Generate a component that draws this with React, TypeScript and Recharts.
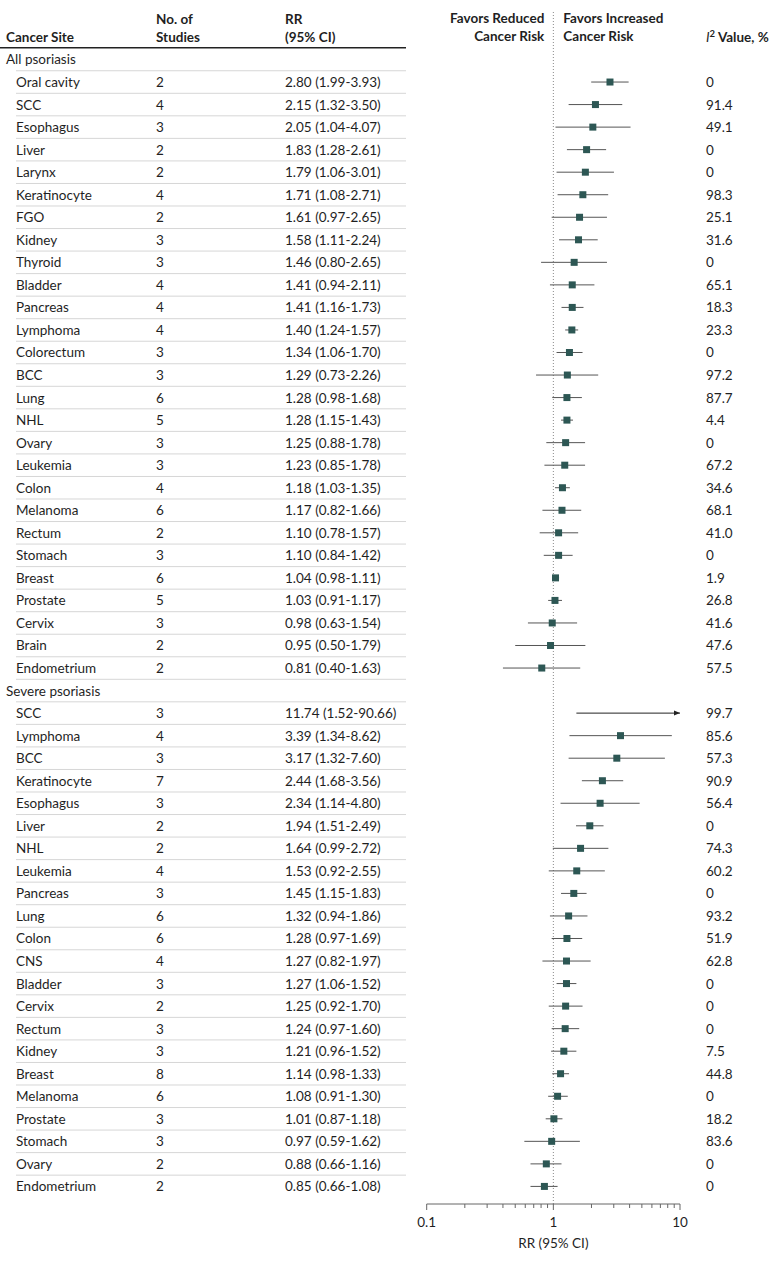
import React from 'react';
import { ScatterChart, Scatter, XAxis, YAxis, ErrorBar, ReferenceLine } from 'recharts';

const groupLabels = ['All psoriasis', 'Severe psoriasis'];

const allSites = ['Oral cavity', 'SCC', 'Esophagus', 'Liver', 'Larynx', 'Keratinocyte', 'FGO', 'Kidney', 'Thyroid', 'Bladder', 'Pancreas', 'Lymphoma', 'Colorectum', 'BCC', 'Lung', 'NHL', 'Ovary', 'Leukemia', 'Colon', 'Melanoma', 'Rectum', 'Stomach', 'Breast', 'Prostate', 'Cervix', 'Brain', 'Endometrium'];
const allStudies = [2, 4, 3, 2, 2, 4, 2, 3, 3, 4, 4, 4, 3, 3, 6, 5, 3, 3, 4, 6, 2, 3, 6, 5, 3, 2, 2];
const allRR = [2.80, 2.15, 2.05, 1.83, 1.79, 1.71, 1.61, 1.58, 1.46, 1.41, 1.41, 1.40, 1.34, 1.29, 1.28, 1.28, 1.25, 1.23, 1.18, 1.17, 1.10, 1.10, 1.04, 1.03, 0.98, 0.95, 0.81];
const allLow = [1.99, 1.32, 1.04, 1.28, 1.06, 1.08, 0.97, 1.11, 0.80, 0.94, 1.16, 1.24, 1.06, 0.73, 0.98, 1.15, 0.88, 0.85, 1.03, 0.82, 0.78, 0.84, 0.98, 0.91, 0.63, 0.50, 0.40];
const allHigh = [3.93, 3.50, 4.07, 2.61, 3.01, 2.71, 2.65, 2.24, 2.65, 2.11, 1.73, 1.57, 1.70, 2.26, 1.68, 1.43, 1.78, 1.78, 1.35, 1.66, 1.57, 1.42, 1.11, 1.17, 1.54, 1.79, 1.63];
const allI2 = ['0', '91.4', '49.1', '0', '0', '98.3', '25.1', '31.6', '0', '65.1', '18.3', '23.3', '0', '97.2', '87.7', '4.4', '0', '67.2', '34.6', '68.1', '41.0', '0', '1.9', '26.8', '41.6', '47.6', '57.5'];

const severeSites = ['SCC', 'Lymphoma', 'BCC', 'Keratinocyte', 'Esophagus', 'Liver', 'NHL', 'Leukemia', 'Pancreas', 'Lung', 'Colon', 'CNS', 'Bladder', 'Cervix', 'Rectum', 'Kidney', 'Breast', 'Melanoma', 'Prostate', 'Stomach', 'Ovary', 'Endometrium'];
const severeStudies = [3, 4, 3, 7, 3, 2, 2, 4, 3, 6, 6, 4, 3, 2, 3, 3, 8, 6, 3, 3, 2, 2];
const severeRR = [11.74, 3.39, 3.17, 2.44, 2.34, 1.94, 1.64, 1.53, 1.45, 1.32, 1.28, 1.27, 1.27, 1.25, 1.24, 1.21, 1.14, 1.08, 1.01, 0.97, 0.88, 0.85];
const severeLow = [1.52, 1.34, 1.32, 1.68, 1.14, 1.51, 0.99, 0.92, 1.15, 0.94, 0.97, 0.82, 1.06, 0.92, 0.97, 0.96, 0.98, 0.91, 0.87, 0.59, 0.66, 0.66];
const severeHigh = [90.66, 8.62, 7.60, 3.56, 4.80, 2.49, 2.72, 2.55, 1.83, 1.86, 1.69, 1.97, 1.52, 1.70, 1.60, 1.52, 1.33, 1.30, 1.18, 1.62, 1.16, 1.08];
const severeI2 = ['99.7', '85.6', '57.3', '90.9', '56.4', '0', '74.3', '60.2', '0', '93.2', '51.9', '62.8', '0', '0', '0', '7.5', '44.8', '0', '18.2', '83.6', '0', '0'];

const xTicks = [0.1, 0.2, 0.3, 0.4, 0.5, 0.6, 0.7, 0.8, 0.9, 1, 2, 3, 4, 5, 6, 7, 8, 9, 10];
const xTickLabels = [0.1, 1, 10];
const xAxisTitle = 'RR (95% CI)';
const xMin = 0.1;
const xMax = 10;

type Row = { kind: 'group' | 'item'; label: string; n?: number; rr?: number; lo?: number; hi?: number; i2?: string };

const rows: Row[] = [];
const groups = [
  { sites: allSites, n: allStudies, rr: allRR, lo: allLow, hi: allHigh, i2: allI2 },
  { sites: severeSites, n: severeStudies, rr: severeRR, lo: severeLow, hi: severeHigh, i2: severeI2 },
];
groups.forEach((g, gi) => {
  rows.push({ kind: 'group', label: groupLabels[gi] });
  g.sites.forEach((s, i) => {
    rows.push({ kind: 'item', label: s, n: g.n[i], rr: g.rr[i], lo: g.lo[i], hi: g.hi[i], i2: g.i2[i] });
  });
});

const points = rows
  .map((r, idx) => ({ r, idx }))
  .filter(({ r }) => r.kind === 'item' && (r.rr as number) <= xMax)
  .map(({ r, idx }) => ({ x: r.rr, y: idx, err: [(r.rr as number) - (r.lo as number), (r.hi as number) - (r.rr as number)] }));

const arrowRows = rows
  .map((r, idx) => ({ r, idx }))
  .filter(({ r }) => r.kind === 'item' && (r.rr as number) > xMax);

const yTicks = [-1, ...rows.map((_, i) => i)];

const FONT = 'Lato, "Open Sans", sans-serif';
const TXT = '#1f1f1f';
const FS = 13.5;
const HALF_ROW = 11.27;

const fmt = (v: number) => v.toFixed(2);

const RowTick = (props: any) => {
  const { y, payload } = props;
  const idx = payload.value as number;
  const common = { fontFamily: FONT, fontSize: FS, fill: TXT, dominantBaseline: 'central' as const };
  if (idx === -1) {
    return (
      <g>
        <text x={6} y={y} {...common} fontWeight={700}>Cancer Site</text>
        <text x={156} y={y - 17.5} {...common} fontWeight={700}>No. of</text>
        <text x={156} y={y} {...common} fontWeight={700}>Studies</text>
        <text x={285} y={y - 17.5} {...common} fontWeight={700}>RR</text>
        <text x={285} y={y} {...common} fontWeight={700}>(95% CI)</text>
        <text x={706} y={y} {...common} fontWeight={700}>
          <tspan fontStyle="italic" fontWeight={400}>I</tspan>
          <tspan fontSize={9.5} dy={-4}>2</tspan>
          <tspan dy={4}> Value, %</tspan>
        </text>
        <line x1={0} x2={406} y1={y + HALF_ROW - 0.5} y2={y + HALF_ROW - 0.5} stroke="#222" strokeWidth={1.5} />
      </g>
    );
  }
  const r = rows[idx];
  if (!r) return null;
  const sep = idx < rows.length - 1 ? (
    <line x1={16} x2={406} y1={y + HALF_ROW} y2={y + HALF_ROW} stroke="#d6d6d6" strokeWidth={1} />
  ) : null;
  if (r.kind === 'group') {
    return (
      <g>
        <text x={6} y={y} {...common}>{r.label}</text>
        {sep}
      </g>
    );
  }
  return (
    <g>
      <text x={16} y={y} {...common}>{r.label}</text>
      <text x={156} y={y} {...common}>{r.n}</text>
      <text x={285} y={y} {...common}>{`${fmt(r.rr as number)} (${fmt(r.lo as number)}-${fmt(r.hi as number)})`}</text>
      <text x={706} y={y} {...common}>{r.i2}</text>
      {sep}
    </g>
  );
};

const XTick = (props: any) => {
  const { x, y, payload } = props;
  const v = payload.value as number;
  const major = xTickLabels.includes(v);
  return (
    <g>
      <line x1={x} x2={x} y1={y} y2={y + (major ? 6 : 4)} stroke="#666" strokeWidth={1} />
      {major ? (
        <text x={x} y={y + 18} textAnchor="middle" dominantBaseline="central" fontFamily={FONT} fontSize={FS} fill={TXT}>
          {String(v)}
        </text>
      ) : null}
    </g>
  );
};

const AxisTitle = (props: any) => {
  const vb = props.viewBox || {};
  return (
    <text
      x={(vb.x as number) + (vb.width as number) / 2}
      y={(vb.y as number) + 39}
      textAnchor="middle"
      dominantBaseline="central"
      fontFamily={FONT}
      fontSize={FS}
      fill={TXT}
    >
      {xAxisTitle}
    </text>
  );
};

const FavorsLabel = (props: any) => {
  const vb = props.viewBox || {};
  const x = vb.x as number;
  const y = vb.y as number;
  const common = { fontFamily: FONT, fontSize: FS, fill: TXT, fontWeight: 700, dominantBaseline: 'central' as const };
  return (
    <g>
      <text x={x - 9} y={y + 8} textAnchor="end" {...common}>Favors Reduced</text>
      <text x={x - 9} y={y + 26} textAnchor="end" {...common}>Cancer Risk</text>
      <text x={x + 10} y={y + 8} textAnchor="start" {...common}>Favors Increased</text>
      <text x={x + 10} y={y + 26} textAnchor="start" {...common}>Cancer Risk</text>
    </g>
  );
};

const Square = (props: any) => {
  const { cx, cy } = props;
  if (cx == null || cy == null) return null;
  return <rect x={cx - 3.5} y={cy - 3.5} width={7} height={7} fill="#2d5754" />;
};

const ArrowTip = (props: any) => {
  const { cx, cy, payload } = props;
  if (!payload || !payload.tip) return <g />;
  return <path d={`M${cx - 6},${cy - 2.5} L${cx},${cy} L${cx - 6},${cy + 2.5} Z`} fill="#222" />;
};

export default function App() {
  return (
    <div style={{ position: 'absolute', left: 0, top: 0, width: 780, height: 1261, background: '#fff', fontFamily: FONT }}>
      <ScatterChart width={780} height={1261} margin={{ top: 10, right: 100, bottom: 11, left: 0 }}>
        <XAxis
          type="number"
          dataKey="x"
          scale="log"
          domain={[xMin, xMax]}
          allowDataOverflow
          ticks={xTicks}
          interval={0}
          tick={<XTick />}
          tickLine={false}
          tickSize={0}
          tickMargin={0}
          height={46}
          axisLine={{ stroke: '#666', strokeWidth: 1 }}
          label={<AxisTitle />}
        />
        <YAxis
          type="number"
          dataKey="y"
          reversed
          domain={[-2.196, 50.78]}
          allowDataOverflow
          ticks={yTicks}
          interval={0}
          width={426.7}
          tick={<RowTick />}
          tickLine={false}
          axisLine={false}
        />
        <ReferenceLine x={1} stroke="#8a8a8a" strokeDasharray="1 2" strokeWidth={1} label={<FavorsLabel />} />
        <Scatter data={points} shape={<Square />} isAnimationActive={false}>
          <ErrorBar dataKey="err" direction="x" width={0} stroke="#555" strokeWidth={1} />
        </Scatter>
        {arrowRows.map(({ r, idx }) => (
          <Scatter
            key={idx}
            data={[{ x: r.lo, y: idx, tip: false }, { x: xMax, y: idx, tip: true }]}
            line={{ stroke: '#222', strokeWidth: 1 }}
            shape={<ArrowTip />}
            isAnimationActive={false}
          />
        ))}
      </ScatterChart>
    </div>
  );
}
